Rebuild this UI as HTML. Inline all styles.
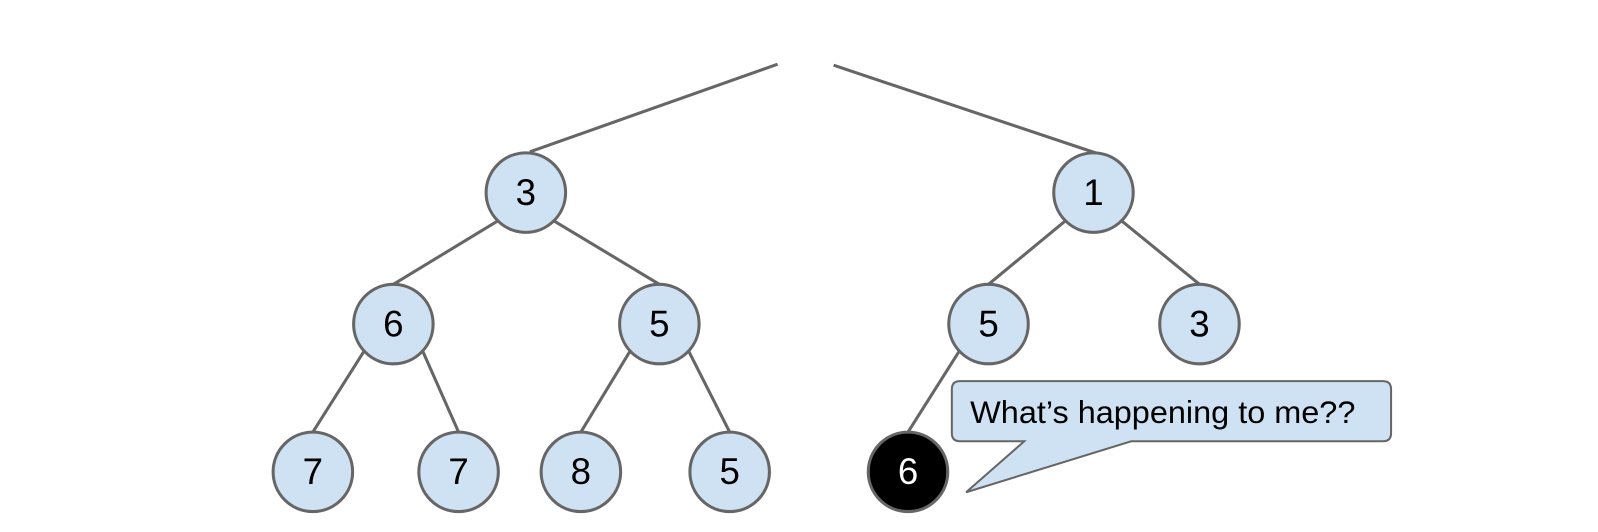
<!DOCTYPE html>
<html><head><style>html,body{margin:0;padding:0;background:#fff}</style></head><body>
<svg width="1598" height="527" viewBox="0 0 1598 527" xmlns="http://www.w3.org/2000/svg" font-family="Liberation Sans, sans-serif">
<g transform="scale(1.0191)">
<g stroke="#666" stroke-width="3" fill="none">
<line x1="763" y1="63" x2="520" y2="149"/>
<line x1="818" y1="64" x2="1075" y2="150"/>
<line x1="488" y1="217" x2="386" y2="279"/>
<line x1="544" y1="217" x2="647" y2="279"/>
<line x1="1045" y1="217" x2="970" y2="279"/>
<line x1="1101" y1="217" x2="1177" y2="279"/>
<line x1="357" y1="345" x2="307" y2="424"/>
<line x1="415" y1="345" x2="450" y2="424"/>
<line x1="618" y1="345" x2="570" y2="424"/>
<line x1="676" y1="345" x2="716" y2="424"/>
<line x1="941" y1="345" x2="891" y2="424"/>
</g>
<g stroke="#666" stroke-width="3" fill="#cfe2f3">
<circle cx="516" cy="189" r="39"/>
<circle cx="1073" cy="189" r="39"/>
<circle cx="386" cy="318" r="39"/>
<circle cx="647" cy="318" r="39"/>
<circle cx="970" cy="318" r="39"/>
<circle cx="1177" cy="318" r="39"/>
<circle cx="307" cy="463" r="39"/>
<circle cx="450" cy="463" r="39"/>
<circle cx="570" cy="463" r="39"/>
<circle cx="716" cy="463" r="39"/>
<circle cx="891" cy="463" r="39" fill="#000"/>
</g>
<g font-size="36" text-anchor="middle" fill="#000">
<text x="516" y="201">3</text>
<text x="1073" y="201">1</text>
<text x="386" y="330">6</text>
<text x="647" y="330">5</text>
<text x="970" y="330">5</text>
<text x="1177" y="330">3</text>
<text x="307" y="475">7</text>
<text x="450" y="475">7</text>
<text x="570" y="475">8</text>
<text x="716" y="475">5</text>
<text x="891" y="475" fill="#fff">6</text>
</g>
<path d="M942 374 H1357 Q1365 374 1365 382 V425 Q1365 433 1357 433 H1110 L948 483 L1005 433 H942 Q934 433 934 425 V382 Q934 374 942 374 Z" fill="#cfe2f3" stroke="#666" stroke-width="2"/>
<text x="952" y="415" font-size="31" fill="#000" textLength="378" lengthAdjust="spacingAndGlyphs">What’s happening to me??</text>
</g>
</svg>
</body></html>
